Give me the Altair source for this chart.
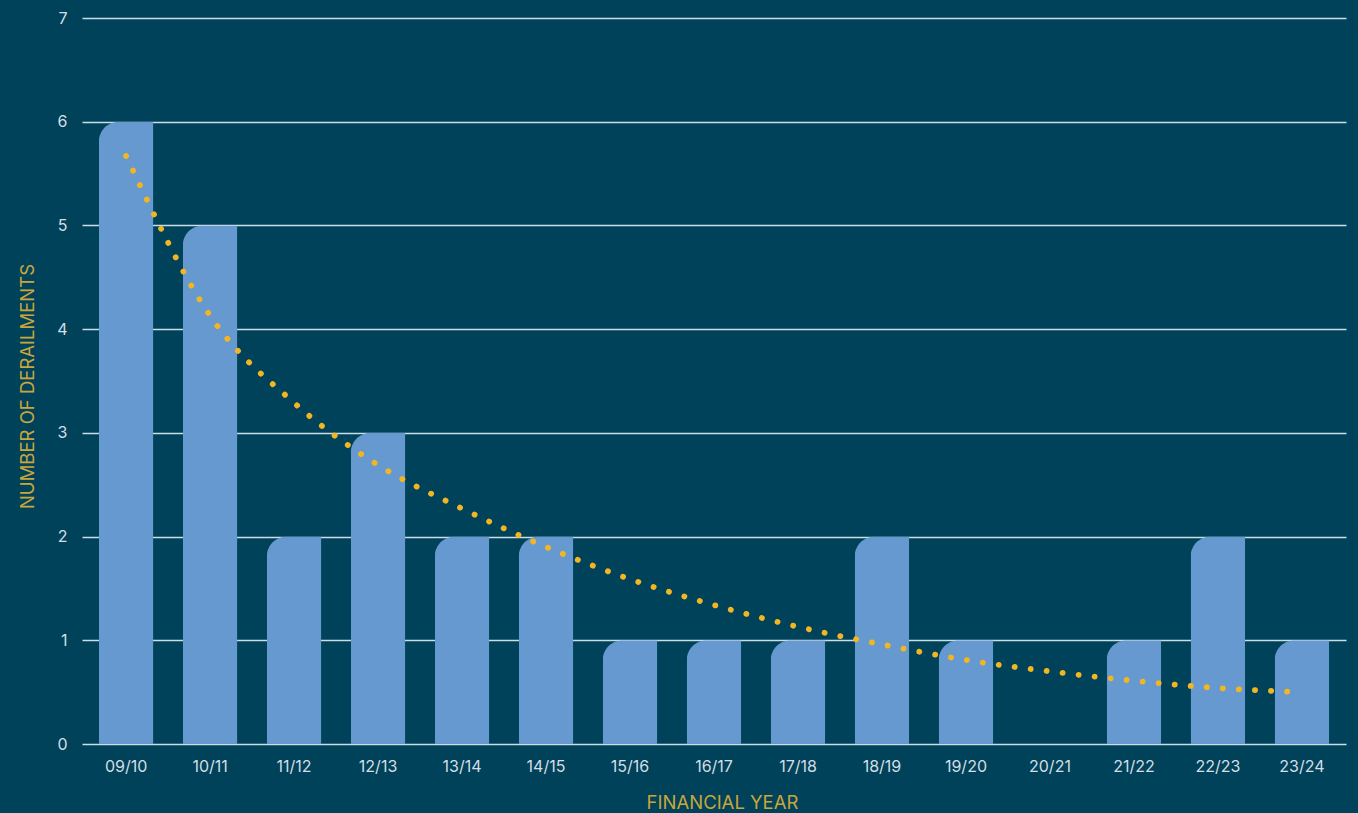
import altair as alt
import pandas as pd

# Derailments per financial year
years = ["09/10", "10/11", "11/12", "12/13", "13/14", "14/15", "15/16", "16/17",
         "17/18", "18/19", "19/20", "20/21", "21/22", "22/23", "23/24"]
derailments = [6, 5, 2, 3, 2, 2, 1, 1, 1, 2, 1, 0, 1, 2, 1]
# Trend line values at each financial year
trend = [5.67, 4.13, 3.29, 2.69, 2.27, 1.90, 1.59, 1.34, 1.13, 0.96, 0.81, 0.70, 0.61, 0.54, 0.50]

df = pd.DataFrame({"year": years, "count": derailments, "trend": trend})

BG = "#004259"
BAR = "#6699CF"
GOLD = "#C9A63C"
DOT = "#F2B623"
LABEL = "#D3DEE5"
GRID = "#CBDDE6"
FONT = "Inter"

x_enc = alt.X(
    "year:N",
    sort=years,
    scale=alt.Scale(paddingInner=0.35, paddingOuter=0.2),
    axis=alt.Axis(
        title="FINANCIAL YEAR",
        titleColor=GOLD,
        titleFont=FONT,
        titleFontSize=18.5,
        titleFontWeight="normal",
        titlePadding=19,
        titleX=640,
        labelColor=LABEL,
        labelFont=FONT,
        labelFontSize=16,
        labelAngle=0,
        labelPadding=14,
        domain=False,
        ticks=False,
        grid=False,
    ),
)

bars = alt.Chart(df).mark_bar(
    color=BAR,
    cornerRadiusTopLeft=20,
).encode(
    x=x_enc,
    y=alt.Y(
        "count:Q",
        scale=alt.Scale(domain=[0, 7], nice=False),
        axis=alt.Axis(
            title="NUMBER OF DERAILMENTS",
            titleColor=GOLD,
            titleFont=FONT,
            titleFontSize=18.5,
            titleFontWeight="normal",
            titleX=-45,
            titleY=368,
            titleAnchor="middle",
            labelColor=LABEL,
            labelFont=FONT,
            labelFontSize=16,
            labelPadding=15,
            format="d",
            values=[0, 1, 2, 3, 4, 5, 6, 7],
            domain=False,
            ticks=False,
            grid=True,
            gridColor=GRID,
            gridWidth=1.6,
        ),
    ),
)

trend_line = alt.Chart(df).mark_line(
    color=DOT,
    strokeWidth=5.8,
    strokeCap="round",
    strokeDash=[0.1, 16],
    interpolate="monotone",
).encode(
    x=alt.X("year:N", sort=years),
    y=alt.Y("trend:Q"),
)

chart = alt.layer(bars, trend_line).properties(
    width=1264,
    height=726,
    background=BG,
    padding={"left": 82, "top": 18, "right": 12, "bottom": 69},
    autosize=alt.AutoSizeParams(type="none"),
).configure_view(stroke=None)

chart.save("out.html", embed_options={"renderer": "svg", "actions": False})
